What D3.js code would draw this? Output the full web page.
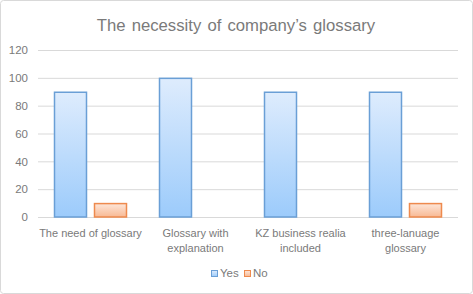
<!DOCTYPE html>
<html><head><meta charset="utf-8">
<script src="https://cdn.jsdelivr.net/npm/d3@7"></script>
<style>body{margin:0;background:#fff}svg{display:block}text{font-family:"Liberation Sans",Arial,sans-serif}</style>
</head><body>
<svg id="c" width="473" height="294"></svg>
<script>
const categories = [["The need of glossary"],["Glossary with","explanation"],["KZ business realia","included"],["three-lanuage","glossary"]];
const categoryKeys = ["The need of glossary","Glossary with explanation","KZ business realia included","three-lanuage glossary"];
const seriesNames = ["Yes","No"];
const yesValues = [90,100,90,90];
const noValues = [10,0,0,10];
const yTicks = [0,20,40,60,80,100,120];
const title = "The necessity of company\u2019s glossary";

const svg = d3.select("#c");
const W=473,H=294;
svg.append("rect").attr("x",0.5).attr("y",0.5).attr("width",W-1).attr("height",H-1).attr("rx",3)
  .attr("fill","#fff").attr("stroke","#d9d9d9");

const defs = svg.append("defs");
const g1 = defs.append("linearGradient").attr("id","gy").attr("x1",0).attr("y1",0).attr("x2",0).attr("y2",1);
g1.append("stop").attr("offset","0").attr("stop-color","#deecfd");
g1.append("stop").attr("offset","1").attr("stop-color","#9ccbfb");
const g2 = defs.append("linearGradient").attr("id","gn").attr("x1",0).attr("y1",0).attr("x2",0).attr("y2",1);
g2.append("stop").attr("offset","0").attr("stop-color","#fde6d9");
g2.append("stop").attr("offset","1").attr("stop-color","#f8b994");

const L=38,R=458,T=50,B=217;
const x = d3.scaleBand().domain(categoryKeys).range([L,R]).paddingInner(0).paddingOuter(0);
const y = d3.scaleLinear().domain([0,120]).range([B,T]);

svg.append("text").attr("x",236).attr("y",31).attr("text-anchor","middle")
  .attr("font-size",16.7).attr("word-spacing",1.5).attr("fill","#7a7a7a").text(title);

const yAxis = d3.axisLeft(y).tickValues(yTicks).tickSize(-(R-L)).tickPadding(10);
const ga = svg.append("g").attr("transform",`translate(${L},0)`).call(yAxis);
ga.select(".domain").remove();
ga.selectAll(".tick line").attr("stroke","#d9d9d9").attr("stroke-width",1);
ga.selectAll(".tick text").attr("fill","#7a7a7a").attr("font-size",11.5);

const barW=33, gap=7;
const offsets=[-(gap/2+barW), gap/2];
const data=[yesValues,noValues];
const fills=["url(#gy)","url(#gn)"], strokes=["#6a9fd6","#ee8a4e"];
data.forEach((vals,si)=>{
  svg.append("g").selectAll("rect").data(vals.map((v,i)=>({k:categoryKeys[i],v}))).enter()
    .filter(d=>d.v>0).append("rect")
    .attr("x",d=>x(d.k)+x.bandwidth()/2+offsets[si]+0.5)
    .attr("y",d=>y(d.v)+0.5)
    .attr("width",barW-1).attr("height",d=>y(0)-y(d.v)-0.5)
    .attr("fill",fills[si]).attr("stroke",strokes[si]).attr("stroke-width",1.5);
});

const xl = svg.append("g");
categories.forEach((lines,i)=>{
  const t = xl.append("text").attr("x",x(categoryKeys[i])+x.bandwidth()/2).attr("y",237)
    .attr("text-anchor","middle").attr("font-size",11).attr("fill","#7a7a7a");
  lines.forEach((ln,j)=>t.append("tspan").attr("x",x(categoryKeys[i])+x.bandwidth()/2).attr("dy",j?14.5:0).text(ln));
});

const lg = svg.append("g");
const lx=[211,244];
seriesNames.forEach((n,i)=>{
  lg.append("rect").attr("x",lx[i]+0.5).attr("y",270.5).attr("width",6).attr("height",6)
    .attr("fill",fills[i]).attr("stroke",strokes[i]);
  lg.append("text").attr("x",lx[i]+9).attr("y",277).attr("font-size",11.5).attr("fill","#7a7a7a").text(n);
});
</script>
</body></html>
